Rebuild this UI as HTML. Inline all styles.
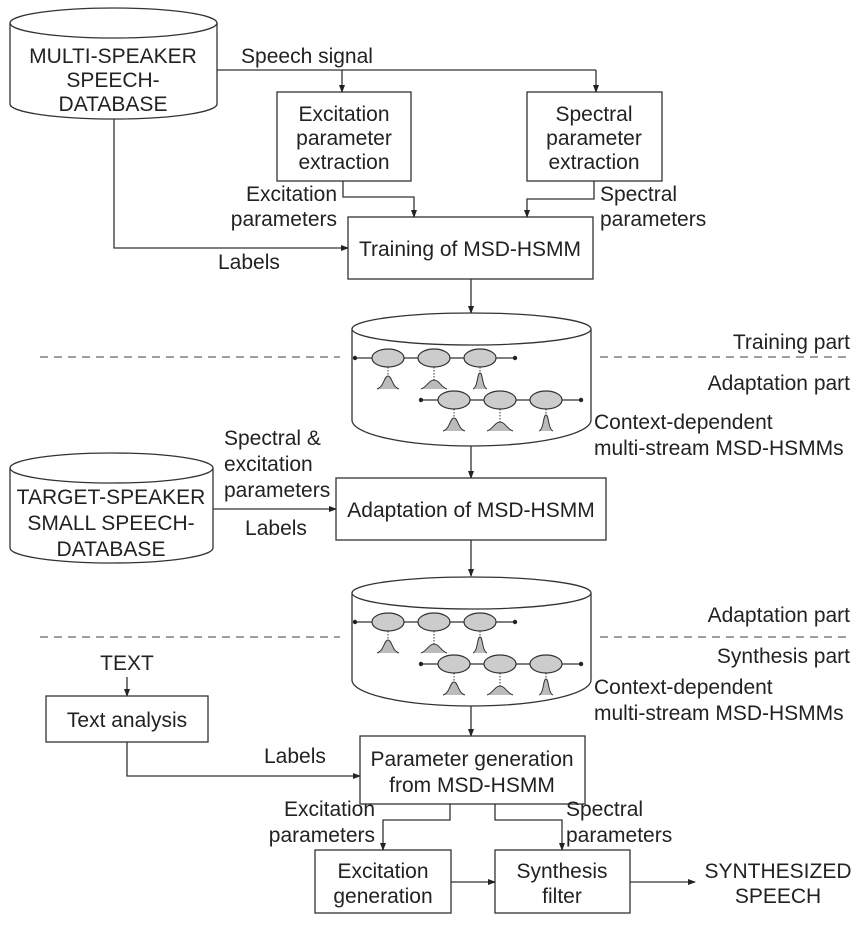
<!DOCTYPE html>
<html><head><meta charset="utf-8"><style>
html,body{margin:0;padding:0;background:#fff}
svg{display:block}
text{font-family:"Liberation Sans",sans-serif;font-size:21px;fill:#222}
</style></head><body>
<svg width="861" height="930" viewBox="0 0 861 930" xmlns="http://www.w3.org/2000/svg">
<defs>
<marker id="a" markerWidth="8" markerHeight="8" refX="7" refY="4" orient="auto" markerUnits="userSpaceOnUse"><path d="M0,1 L8,4 L0,7z" fill="#222"/></marker>
<g id="hmm">
 <line x1="0" y1="0" x2="160" y2="0" stroke="#333" stroke-width="1.2"/>
 <circle cx="0" cy="0" r="2.2" fill="#222"/><circle cx="160" cy="0" r="2.2" fill="#222"/>
 <ellipse cx="33" cy="0" rx="16" ry="9" fill="#ccc" stroke="#333" stroke-width="1.2"/>
 <ellipse cx="79" cy="0" rx="16" ry="9" fill="#ccc" stroke="#333" stroke-width="1.2"/>
 <ellipse cx="125" cy="0" rx="16" ry="9" fill="#ccc" stroke="#333" stroke-width="1.2"/>
 <line x1="33" y1="9" x2="33" y2="18" stroke="#333" stroke-dasharray="1.5,1.5"/>
 <line x1="79" y1="9" x2="79" y2="22" stroke="#333" stroke-dasharray="1.5,1.5"/>
 <line x1="125" y1="9" x2="125" y2="15" stroke="#333" stroke-dasharray="1.5,1.5"/>
 <path d="M22,31 C29,29 29,18 33,18 C37,18 37,29 44,31" fill="#bbb" stroke="#333"/>
 <path d="M66,31 C72,29 74,22 79,22 C84,22 86,29 92,31" fill="#bbb" stroke="#333"/>
 <path d="M118,31 C123,29 122,15 125,15 C128,15 127,29 132,31" fill="#bbb" stroke="#333"/>
</g>
</defs>
<g fill="none" stroke="#333" stroke-width="1.3">
 <path d="M10,23 L10,104 A103.5,15 0 0 0 217,104 L217,23"/>
 <ellipse cx="113.5" cy="23" rx="103.5" ry="15"/>
 <rect x="277" y="92" width="134" height="89"/>
 <rect x="527" y="92" width="135" height="89"/>
 <rect x="348" y="217" width="245" height="62"/>
 <path d="M217,70 L596,70"/>
 <path d="M342,70 L342,92" marker-end="url(#a)"/>
 <path d="M596,70 L596,92" marker-end="url(#a)"/>
 <path d="M343,181 L343,197 L414,197 L414,217" marker-end="url(#a)"/>
 <path d="M594,181 L594,199 L527,199 L527,217" marker-end="url(#a)"/>
 <path d="M114,119 L114,248 L348,248" marker-end="url(#a)"/>
 <path d="M471,279 L471,313" marker-end="url(#a)"/>
 <path d="M40,357 L340,357 M600,357 L850,357" stroke-dasharray="8,6" stroke="#666"/>
 <path d="M40,637 L340,637 M600,637 L850,637" stroke-dasharray="8,6" stroke="#666"/>
 <path d="M352,329 L352,420 A119.5,26 0 0 0 591,420 L591,329" fill="#fff"/>
 <ellipse cx="471.5" cy="329" rx="119.5" ry="16" fill="#fff"/>
 <path d="M471,446 L471,478" marker-end="url(#a)"/>
 <rect x="336" y="478" width="270" height="62"/>
 <path d="M10,468 L10,548 A101.5,15 0 0 0 213,548 L213,468"/>
 <ellipse cx="111.5" cy="468" rx="101.5" ry="15"/>
 <path d="M213,509 L336,509" marker-end="url(#a)"/>
 <path d="M471,540 L471,576" marker-end="url(#a)"/>
 <path d="M352,593 L352,680 A119.5,26 0 0 0 591,680 L591,593" fill="#fff"/>
 <ellipse cx="471.5" cy="593" rx="119.5" ry="16" fill="#fff"/>
 <path d="M471,706 L471,736" marker-end="url(#a)"/>
 <path d="M127,677 L127,696" marker-end="url(#a)"/>
 <rect x="46" y="696" width="162" height="46"/>
 <path d="M127,742 L127,776 L360,776" marker-end="url(#a)"/>
 <rect x="360" y="736" width="225" height="68"/>
 <path d="M450,804 L450,820 L383,820 L383,850" marker-end="url(#a)"/>
 <path d="M495,804 L495,820 L562,820 L562,850" marker-end="url(#a)"/>
 <rect x="315" y="850" width="136" height="63"/>
 <rect x="495" y="850" width="135" height="63"/>
 <path d="M451,882 L495,882" marker-end="url(#a)"/>
 <path d="M630,882 L695,882" marker-end="url(#a)"/>
</g>
<use href="#hmm" x="355" y="358"/>
<use href="#hmm" x="421" y="400"/>
<use href="#hmm" x="355" y="622"/>
<use href="#hmm" x="421" y="664"/>
<g text-anchor="middle">
 <text x="113" y="63">MULTI-SPEAKER</text>
 <text x="113" y="87">SPEECH-</text>
 <text x="113" y="111">DATABASE</text>
 <text x="307" y="63">Speech signal</text>
 <text x="344" y="121">Excitation</text>
 <text x="344" y="145">parameter</text>
 <text x="344" y="169">extraction</text>
 <text x="594" y="121">Spectral</text>
 <text x="594" y="145">parameter</text>
 <text x="594" y="169">extraction</text>
 <text x="470" y="256">Training of MSD-HSMM</text>
 <text x="471" y="517">Adaptation of MSD-HSMM</text>
 <text x="111" y="504">TARGET-SPEAKER</text>
 <text x="111" y="530">SMALL SPEECH-</text>
 <text x="111" y="556">DATABASE</text>
 <text x="276" y="535">Labels</text>
 <text x="127" y="670">TEXT</text>
 <text x="127" y="727">Text analysis</text>
 <text x="472" y="766">Parameter generation</text>
 <text x="472" y="792">from MSD-HSMM</text>
 <text x="383" y="878">Excitation</text>
 <text x="383" y="903">generation</text>
 <text x="562" y="878">Synthesis</text>
 <text x="562" y="903">filter</text>
 <text x="778" y="878">SYNTHESIZED</text>
 <text x="778" y="903">SPEECH</text>
</g>
<g text-anchor="end">
 <text x="337" y="201">Excitation</text>
 <text x="337" y="226">parameters</text>
 <text x="850" y="349">Training part</text>
 <text x="850" y="390">Adaptation part</text>
 <text x="850" y="622">Adaptation part</text>
 <text x="850" y="663">Synthesis part</text>
 <text x="375" y="816">Excitation</text>
 <text x="375" y="842">parameters</text>
</g>
<text x="218" y="269">Labels</text>
<text x="600" y="201">Spectral</text>
<text x="600" y="226">parameters</text>
<text x="594" y="429">Context-dependent</text>
<text x="594" y="455">multi-stream MSD-HSMMs</text>
<text x="224" y="445">Spectral &amp;</text>
<text x="224" y="471">excitation</text>
<text x="224" y="497">parameters</text>
<text x="594" y="694">Context-dependent</text>
<text x="594" y="720">multi-stream MSD-HSMMs</text>
<text x="264" y="763">Labels</text>
<text x="566" y="816">Spectral</text>
<text x="566" y="842">parameters</text>
</svg>
</body></html>
